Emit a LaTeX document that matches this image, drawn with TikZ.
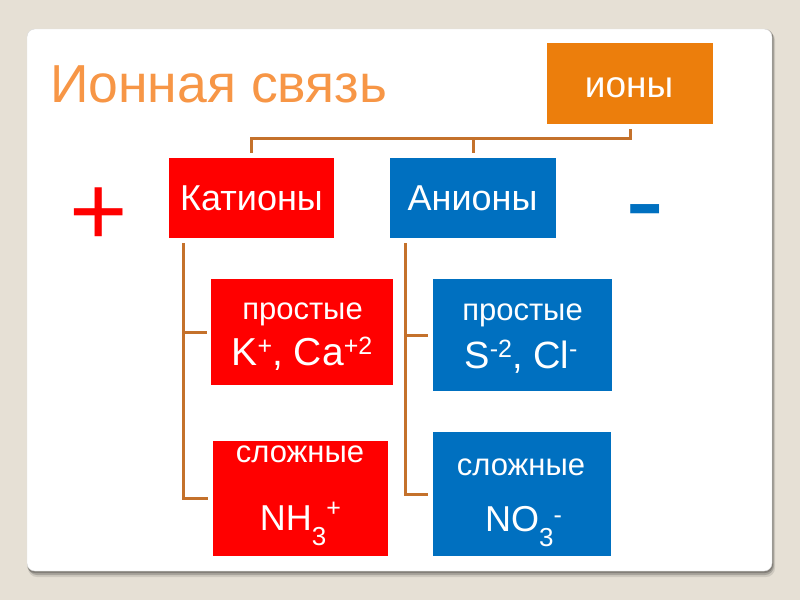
\documentclass[tikz,border=0pt]{standalone}
\usepackage{fontspec}
\setmainfont{Liberation Sans}
\usetikzlibrary{calc}
\definecolor{bg}{HTML}{E6E0D5}
\definecolor{titleor}{HTML}{F79646}
\definecolor{ionor}{HTML}{EC7E0C}
\definecolor{catred}{HTML}{FF0000}
\definecolor{anblue}{HTML}{0070C0}
\definecolor{conncol}{HTML}{C4712B}
\newcommand\upidx[2]{\raisebox{#1pt}{\fontsize{25}{25}\selectfont #2}}
\newcommand\dnidx[2]{\raisebox{-#1pt}{\fontsize{26}{26}\selectfont #2}}
\newcommand\fsz[1]{\fontsize{#1}{#1}\selectfont}
\begin{document}
\begin{tikzpicture}[x=1pt,y=-1pt,
  box/.style={draw=none, inner sep=0pt, anchor=north west},
  txt/.style={inner sep=0pt, anchor=base, text=white},
  connline/.style={draw=conncol, line width=3pt}]
\useasboundingbox (0,0) rectangle (800,600);
\fill[bg] (0,0) rectangle (800,600);
% card with shadow
\fill[black, opacity=0.10, rounded corners=9pt] (28,31) rectangle (775,577);
\fill[black, opacity=0.18, rounded corners=9pt] (28,30) rectangle (774,575);
\fill[black, opacity=0.22, rounded corners=8pt] (27,29) rectangle (773,573);
\filldraw[fill=white, draw=black!12, rounded corners=8pt] (27,29) rectangle (772,571);
% title
\node[inner sep=0pt, anchor=base west, text=titleor] (title) at (50,102) {\fsz{53.5}Ионная связь};
% boxes
\node[box, fill=ionor, minimum width=166pt, minimum height=81pt] (ions) at (547,43) {};
\node[box, fill=catred, minimum width=165pt, minimum height=80pt] (cat) at (169,158) {};
\node[box, fill=anblue, minimum width=166pt, minimum height=80pt] (an) at (390,158) {};
\node[box, fill=catred, minimum width=182pt, minimum height=106pt] (cp) at (211,279) {};
\node[box, fill=catred, minimum width=175pt, minimum height=115pt] (cs) at (213,441) {};
\node[box, fill=anblue, minimum width=179pt, minimum height=112pt] (ap) at (433,279) {};
\node[box, fill=anblue, minimum width=178pt, minimum height=124pt] (as) at (433,432) {};
% texts
\node[txt] (ionsT) at (629,97) {\fsz{37}ионы};
\node[txt] (catT) at (251.5,210) {\fsz{36}Катионы};
\node[txt] (anT) at (472.5,210) {\fsz{36}Анионы};
\node[txt] (cpT1) at (302.5,319) {\fsz{31}простые};
\node[txt] (cpT2) at (302,365) {\fsz{39}K\upidx{11}{+}, Ca\upidx{11}{+2}};
\node[txt] (csT1) at (300,462) {\fsz{31}сложные};
\node[txt] (csT2) at (300.5,530) {\fsz{36}NH\dnidx{15}{3}\upidx{14}{+}};
\node[txt] (apT1) at (522.5,320) {\fsz{31}простые};
\node[txt] (apT2) at (521,368) {\fsz{38}S\upidx{11}{-2}, Cl\upidx{11}{-}};
\node[txt] (asT1) at (521,475) {\fsz{31}сложные};
\node[txt] (asT2) at (523.5,531) {\fsz{36}NO\dnidx{15}{3}\upidx{8}{-}};
% signs
\node[inner sep=0pt, anchor=base, text=catred] (plus) at (99,245) {\fsz{100}+};
\node[inner sep=0pt, anchor=base, text=anblue] (minus) at (645.5,240) {\fsz{118}-};
% connectors
\draw[connline] ($(ions.south)+(0,5)$) |- ($(cat.north)+(0,-20)$) -- ($(cat.north)+(0,-5)$);
\draw[connline] ($(an.north)+(0,-20)$) -- ($(an.north)+(0,-5)$);
\coordinate (catv) at ($(cat.south west)+(14,5)$);
\draw[connline] (catv) |- ($(cs.west)+(-5,0)$);
\draw[connline] (catv |- cp.west) -- ($(cp.west)+(-4,0)$);
\coordinate (anv) at ($(an.south west)+(15,5)$);
\draw[connline] (anv) |- ($(as.west)+(-5,0)$);
\draw[connline] (anv |- ap.west) -- ($(ap.west)+(-5,0)$);
\end{tikzpicture}
\end{document}
